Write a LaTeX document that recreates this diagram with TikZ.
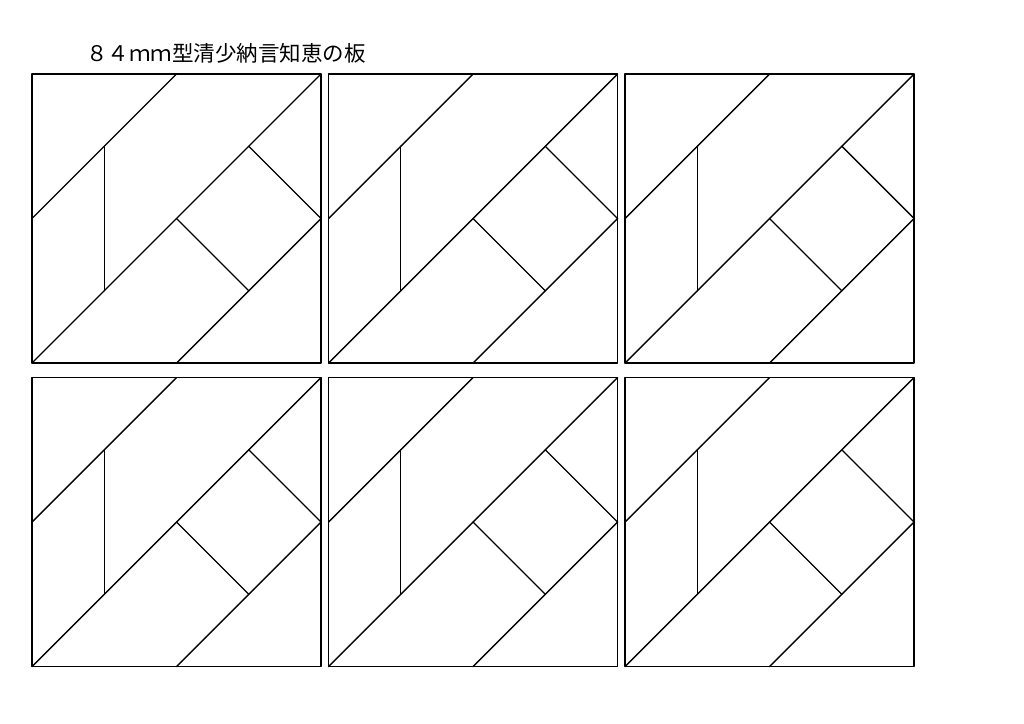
\documentclass[tikz,border=0pt]{standalone}
\usepackage{fontspec}
\usepackage{xcolor}
\usepackage{tikz}
\newfontfamily\jpfont{Noto Sans CJK JP}
\definecolor{ink}{HTML}{000000}
\tikzset{
  base/.style={draw=ink, line width=1.4pt, line cap=round, line join=round},
  lab/.style={text=ink, font=\jpfont\fontsize{21.5}{24}\selectfont, inner sep=0pt, anchor=west},
}

\begin{document}
\begin{tikzpicture}
  \useasboundingbox[fill=white] (0,0) rectangle (1024pt,-723pt);
  \node[lab] (title) at (86pt,-53pt) {８４ｍｍ型清少納言知恵の板};
  \foreach \X in {32,328.5,625}
    \foreach \Y in {74,377.5} {
      \begin{scope}[shift={(\X pt,-\Y pt)}, x=72.25pt, y=-72.25pt]
        \draw[base] (0,0) rectangle (4,4);
        \draw[base] (0,2) -- (2,0);
        \draw[base] (1,1) -- (1,3);
        \draw[base] (0,4) -- (4,0);
        \draw[base] (2,4) -- (4,2);
        \draw[base] (2,2) -- (3,3);
        \draw[base] (3,1) -- (4,2);
      \end{scope}
    }
\end{tikzpicture}
\end{document}
